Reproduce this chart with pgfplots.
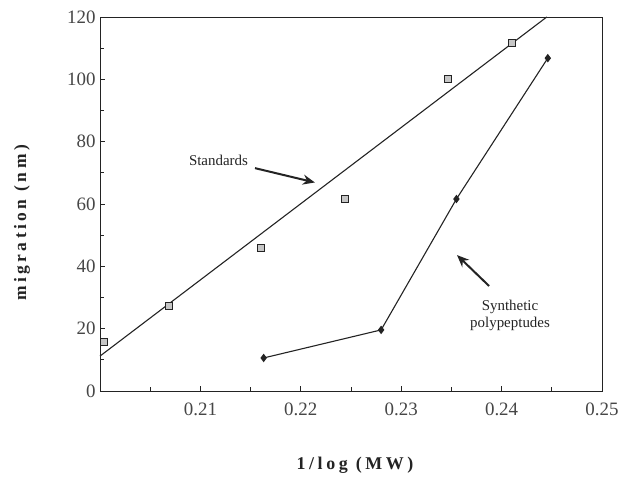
\documentclass[border=0pt]{standalone}
\usepackage{fontspec}
\setmainfont{Liberation Serif}
\newfontfamily\spaced[LetterSpace=20]{Liberation Serif}
\usepackage{pgfplots}
\pgfplotsset{compat=1.18}
\usetikzlibrary{arrows.meta}
\definecolor{ink}{RGB}{35,35,35}
\definecolor{tickink}{RGB}{70,70,70}
\begin{document}
\begin{tikzpicture}[x=1bp,y=1bp]
\path[use as bounding box] (0,0) rectangle (622,486);
\begin{axis}[
  at={(100bp,95bp)}, anchor=south west,
  scale only axis, width=502bp, height=374bp,
  xmin=0.20, xmax=0.25, ymin=0, ymax=120,
  xtick={0.21,0.22,0.23,0.24,0.25},
  xticklabels={0.21,0.22,0.23,0.24,0.25},
  minor xtick={0.205,0.215,0.225,0.235,0.245},
  ytick={0,20,40,60,80,100,120},
  yticklabels={0,20,40,60,80,100,120},
  minor ytick={10,30,50,70,90,110},
  tick align=inside,
  major tick length=5bp, minor tick length=4bp,
  xtick pos=bottom, ytick pos=left,
  axis line style={ink, line width=0.9bp},
  every tick/.style={ink, line width=0.9bp},
  tick label style={font=\fontsize{19}{21}\selectfont, text=tickink},
  xticklabel style={yshift=-8bp},
  yticklabel style={xshift=-1bp},
  clip=false,
]
% Standards fitted line
\addplot[ink, line width=1.1bp] coordinates {(0.2000,11.2) (0.2445,120)};
% Standards data
\addplot[only marks, mark=square*, mark size=3.6bp, mark options={draw=ink, fill=gray!45, line width=1bp}]
  coordinates {(0.2004,15.7) (0.2069,27.3) (0.2160,45.8) (0.2244,61.6) (0.2347,100.2) (0.2410,111.6)};
% Synthetic polypeptides
\addplot[ink, line width=1.1bp, mark=diamond*, mark size=3.4bp, mark options={fill=ink}]
  coordinates {(0.2163,10.6) (0.2280,19.6) (0.2355,61.6) (0.2446,106.8)};
% annotations
\node[font=\fontsize{15}{17}\selectfont, text=ink] at (axis cs:0.2118,74.1) {Standards};
\draw[ink, line width=2bp, -{Stealth[length=12bp,width=10bp]}] (axis cs:0.21544,71.5) -- (axis cs:0.22140,66.9);
\node[font=\fontsize{15}{17}\selectfont, text=ink, align=center] at (axis cs:0.24084,24.3) {Synthetic\\polypeptudes};
\draw[ink, line width=2bp, -{Stealth[length=12bp,width=10bp]}] (axis cs:0.23875,33.7) -- (axis cs:0.23556,43.6);
\end{axis}
\node[rotate=90, font=\spaced\bfseries\fontsize{17.5}{19}\selectfont, text=ink] at (22,263) {migration (nm)};
\node[font=\spaced\bfseries\fontsize{18}{20}\selectfont, text=ink] at (355,21) {1/log (MW)};
\end{tikzpicture}
\end{document}
